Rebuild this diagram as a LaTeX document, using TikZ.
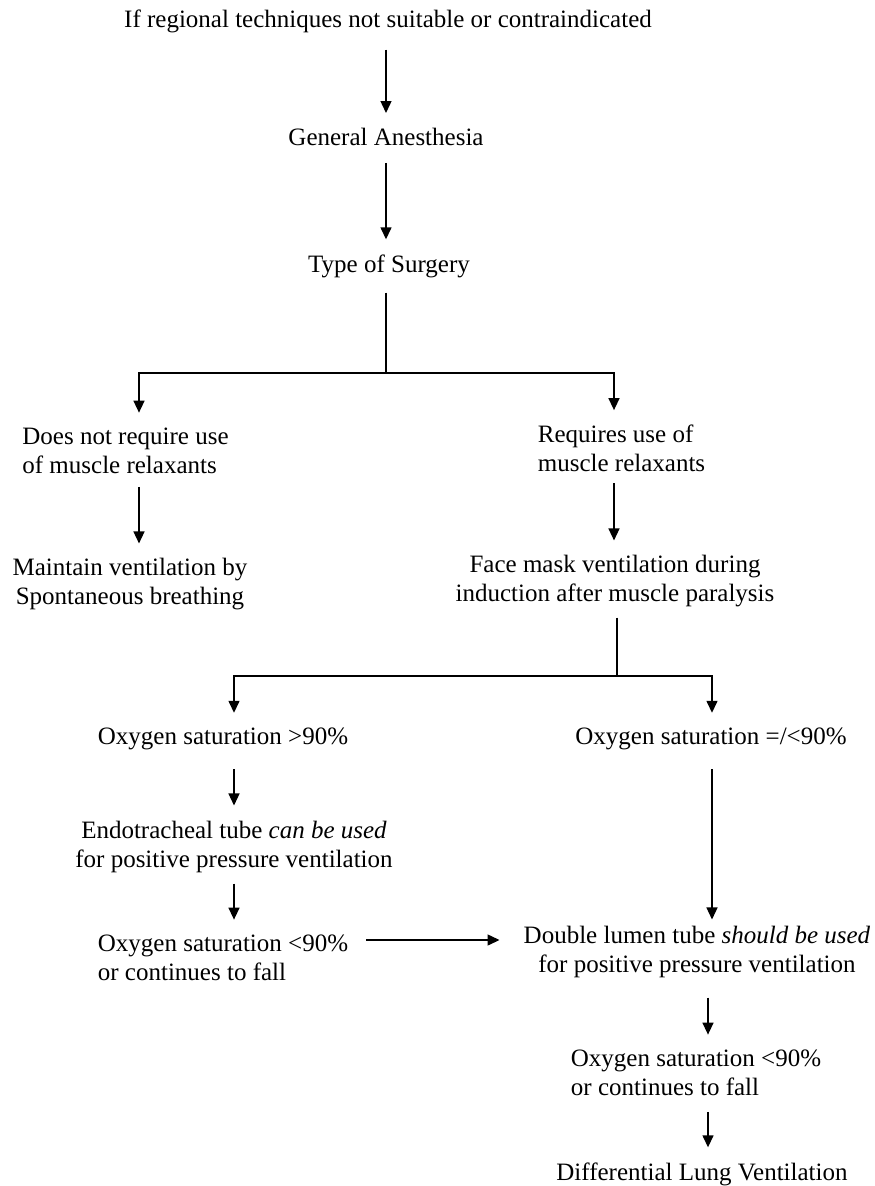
\documentclass[tikz,border=0pt]{standalone}
\usepackage{fontspec}
\setmainfont{Liberation Serif}
\usetikzlibrary{arrows.meta}

\begin{document}
\begin{tikzpicture}[x=1pt,y=-1pt,
  every node/.style={font=\fontsize{25}{29}\selectfont, inner sep=0pt},
  box/.style={align=center},
  lbox/.style={align=left},
  arr/.style={line width=1.4pt, -{Triangle[width=11pt,length=12pt]}, shorten >=15pt},
  gap/.style={shorten <=17pt},
  trunk/.style={line width=1.4pt, shorten <=15pt}]
\useasboundingbox (0,0) rectangle (875,1186);

% x positions of the connectors
\coordinate (spine) at (386,0);
\coordinate (c1L) at (139,0);
\coordinate (c1R) at (614,0);
\coordinate (c2L) at (234,0);
\coordinate (c2R) at (712,0);
\coordinate (c3R) at (708,0);
\coordinate (fork1) at (386,373);
\coordinate (fork2) at (617,676);

\node[box] (top) at (388,21) {If regional techniques not suitable or contraindicated};
\node[box] (gen) at (386,137) {General Anesthesia};
\node[box] (type) at (389,266) {Type of Surgery};

\node[lbox] (norelax) at (125.5,450.75) {Does not require use\\of muscle relaxants};
\node[lbox] (relax) at (621.5,448.75) {Requires use of\\muscle relaxants};
\node[box] (maint) at (130,584.5) {Maintain ventilation by\\Spontaneous breathing};
\node[box] (mask) at (615,581.5) {Face mask ventilation during\\induction after muscle paralysis};

\node[box] (sathi) at (223,739) {Oxygen saturation >90\%};
\node[box] (satlo) at (711,739) {Oxygen saturation =/<90\%};
\node[box] (ett) at (234,846.5) {Endotracheal tube \textit{can be used}\\for positive pressure ventilation};
\node[lbox] (sat2) at (223,957.75) {Oxygen saturation <90\%\\or continues to fall};
\node[box] (dlt) at (697,951.5) {Double lumen tube \textit{should be used}\\for positive pressure ventilation};
\node[lbox] (sat3) at (696,1072.75) {Oxygen saturation <90\%\\or continues to fall};
\node[box] (dlv) at (702,1174) {Differential Lung Ventilation};

% arrows
\draw[arr,gap] (top.south -| spine) -- (gen.north -| spine);
\draw[arr,gap] (gen.south -| spine) -- (type.north -| spine);
\draw[trunk] (type.south -| fork1) -- (fork1);
\draw[arr] (fork1) -| (norelax.north -| c1L);
\draw[arr] (fork1) -| (relax.north -| c1R);
\draw[arr,shorten <=13pt] (norelax.south -| c1L) -- (maint.north -| c1L);
\draw[arr,shorten <=11pt] (relax.south -| c1R) -- (mask.north -| c1R);
\draw[trunk,shorten <=10pt] (mask.south -| fork2) -- (fork2);
\draw[arr] (fork2) -| (sathi.north -| c2L);
\draw[arr] (fork2) -| (satlo.north -| c2R);
\draw[arr,shorten <=19pt] (sathi.south -| c2L) -- (ett.north -| c2L);
\draw[arr,shorten <=11pt] (ett.south -| c2L) -- (sat2.north -| c2L);
\draw[arr,shorten <=19pt,shorten >=6pt] (satlo.south -| c2R) -- (dlt.north -| c2R);
\draw[arr,shorten <=18pt,shorten >=24pt] ([yshift=17.75pt]sat2.east) -- ([yshift=17.75pt]sat2.east -| dlt.west);
\draw[arr,shorten <=20pt] (dlt.south -| c3R) -- (sat3.north -| c3R);
\draw[arr,shorten <=16pt] (sat3.south -| c3R) -- (dlv.north -| c3R);
\end{tikzpicture}
\end{document}
